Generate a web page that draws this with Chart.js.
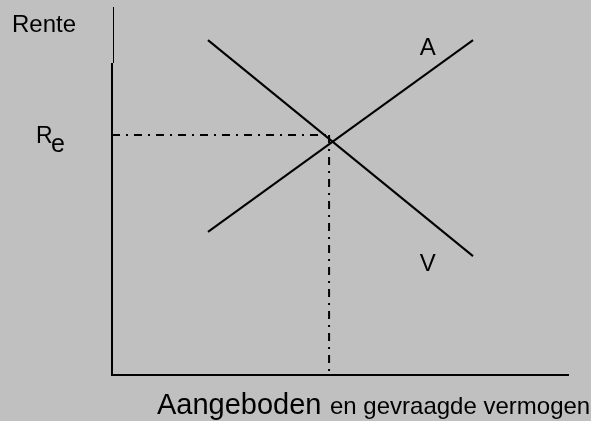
<!DOCTYPE html>
<html>
<head>
<meta charset="utf-8">
<script src="https://cdn.jsdelivr.net/npm/chart.js@4/dist/chart.umd.min.js"></script>
<style>
  html, body { margin: 0; padding: 0; background: #c0c0c0; }
  #wrap { width: 591px; height: 421px; }
</style>
</head>
<body>
<div id="wrap"><canvas id="c" width="591" height="421"></canvas></div>
<script>
// Supply (A) and demand (V) lines, in axis units 0..10
const supplyX = [2.1, 7.9];
const supplyY = [3.89, 9.1];
const demandX = [2.1, 7.9];
const demandY = [9.1, 3.23];
// equilibrium guide lines
const eqX = 4.75;
const eqY = 6.52;
// axis extents
const axisMax = [10, 10];
const yAxisThickTop = 8.48;

const FONT = '"Liberation Sans", Arial, sans-serif';

const pts = (xs, ys) => xs.map((x, i) => ({ x: x, y: ys[i] }));

// axes + texts drawn on the chart using its scales
const diagramPlugin = {
  id: 'diagram',
  afterDatasetsDraw(chart) {
    const { ctx, scales: { x, y } } = chart;
    const x0 = x.getPixelForValue(0), y0 = y.getPixelForValue(0);
    ctx.save();
    ctx.strokeStyle = '#000';
    ctx.lineCap = 'butt';
    // x axis
    ctx.lineWidth = 2;
    ctx.beginPath();
    ctx.moveTo(x0 - 1, y0);
    ctx.lineTo(x.getPixelForValue(axisMax[0]), y0);
    ctx.stroke();
    // y axis, thick part
    ctx.beginPath();
    ctx.moveTo(x0, y0 + 1);
    ctx.lineTo(x0, y.getPixelForValue(yAxisThickTop));
    ctx.stroke();
    // y axis, thin top part
    ctx.lineWidth = 1;
    ctx.beginPath();
    ctx.moveTo(x0 + 1.5, y.getPixelForValue(yAxisThickTop));
    ctx.lineTo(x0 + 1.5, y.getPixelForValue(axisMax[1]));
    ctx.stroke();

    ctx.fillStyle = '#000';
    ctx.textBaseline = 'alphabetic';
    ctx.textAlign = 'left';
    ctx.font = '24px ' + FONT;
    ctx.fillText('Rente', 12, 32);

    // R_e at the equilibrium level
    const ry = y.getPixelForValue(eqY);
    ctx.font = '23px ' + FONT;
    ctx.fillText('R', 36, ry + 8);
    ctx.font = '25px ' + FONT;
    ctx.fillText('e', 51, ry + 17);

    // curve labels
    ctx.font = '24px ' + FONT;
    ctx.textAlign = 'center';
    ctx.fillText('A', x.getPixelForValue(6.91), y.getPixelForValue(8.94) + 9);
    ctx.fillText('V', x.getPixelForValue(6.91), y.getPixelForValue(3.07) + 9);

    // x axis title in two sizes
    ctx.textAlign = 'left';
    ctx.font = '29px ' + FONT;
    ctx.fillText('Aangeboden', 157, 414);
    ctx.font = '24px ' + FONT;
    ctx.fillText('en gevraagde vermogen', 330, 414);
    ctx.restore();
  }
};

const lineStyle = { borderColor: '#000', borderWidth: 2, pointRadius: 0, showLine: true, fill: false, clip: false, tension: 0 };

new Chart(document.getElementById('c'), {
  type: 'scatter',
  data: {
    datasets: [
      Object.assign({ label: 'A', data: pts(supplyX, supplyY) }, lineStyle),
      Object.assign({ label: 'V', data: pts(demandX, demandY) }, lineStyle),
      Object.assign({ label: 'Re', data: [{ x: 0, y: eqY }, { x: eqX, y: eqY }], borderDash: [8, 6, 2, 6] }, lineStyle),
      Object.assign({ label: 'eq', data: [{ x: eqX, y: eqY }, { x: eqX, y: 0 }], borderDash: [8, 6, 2, 6] }, lineStyle)
    ]
  },
  options: {
    responsive: false,
    animation: false,
    events: [],
    layout: { padding: { left: 112, right: 22, top: 7, bottom: 46 } },
    plugins: { legend: { display: false }, tooltip: { enabled: false } },
    scales: {
      x: { type: 'linear', display: false, min: 0, max: axisMax[0] },
      y: { type: 'linear', display: false, min: 0, max: axisMax[1] }
    }
  },
  plugins: [diagramPlugin]
});
</script>
</body>
</html>
